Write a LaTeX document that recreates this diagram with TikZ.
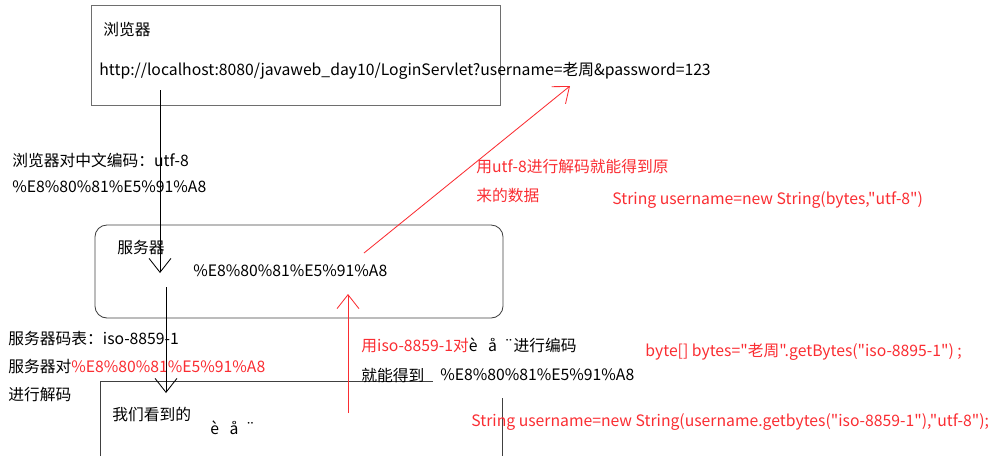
\documentclass[tikz,border=0pt]{standalone}
\usepackage{fontspec}
\setmainfont{Noto Sans CJK SC}[Ligatures=TeXOff]
\usetikzlibrary{arrows.meta,positioning,calc}
\definecolor{note}{RGB}{250,45,50}
\definecolor{frame}{RGB}{110,110,110}

\begin{document}
\begin{tikzpicture}[x=0.025cm, y=-0.025cm, font=\fontsize{11.2}{13}\selectfont, >={Straight Barb[length=3.5mm,width=5.5mm]}, line width=0.6pt]
\tikzstyle{txt}=[inner sep=0pt, anchor=west]
\tikzstyle{rtxt}=[txt, text=note]
\useasboundingbox (0,0) rectangle (1001,456);
% boxes
\node[draw=frame, minimum width=10.225cm, minimum height=2.5cm, inner sep=0pt] (browser) at (295.5,55) {};
\node[draw=black!75, rounded corners=0.3cm, minimum width=10.2cm, minimum height=2.325cm, inner sep=0pt] (server) at (299,271.5) {};
\draw[black!75] (100,456) -- (100,381) -- (433,381);
\draw[black!75] (502,398) -- (502,456);
% texts
\node[txt] (browserlbl) at (103,30) {浏览器};
\node[txt] (url) at (99,71) {http://localhost:8080/javaweb\_day10/LoginServlet?username=老周\&password=123};
\node[txt] (enc1) at (12,160) {浏览器对中文编码：utf-8};
\node[txt] (enc2) at (12,187) {\%E8\%80\%81\%E5\%91\%A8};
\node[txt] (serverlbl) at (117,248) {服务器};
\node[txt] (servercode) at (193,271) {\%E8\%80\%81\%E5\%91\%A8};
\node[rtxt] (utfnote1) at (476,167) {用utf-8进行解码就能得到原};
\node[rtxt] (utfnote2) at (476,195) {来的数据};
\node[rtxt] (code1) at (612,200) {String username=new String(bytes,"utf-8")};
\node[txt] (iso1) at (8,339) {服务器码表：iso-8859-1};
\node[txt] (iso2) at (8,367) {服务器对\textcolor{note}{\%E8\%80\%81\%E5\%91\%A8}};
\node[txt] (iso3) at (8,395) {进行解码};
\node[rtxt] (isonote) at (361,345) {用iso-8859-1对\textcolor{black}{è\ \ \ å\ \ ¨进行编码}};
\node[txt] (got) at (361,375) {就能得到};
\node[txt] (gotcode) at (440,375) {\%E8\%80\%81\%E5\%91\%A8};
\node[rtxt] (code2) at (645,352) {byte[] bytes="老周".getBytes("iso-8895-1") ;};
\node[rtxt] (code3) at (471,422) {String username=new String(username.getbytes("iso-8859-1"),"utf-8");};
\node[txt] (seen) at (112,414) {我们看到的};
\node[txt] (garbled) at (210,428) {è\ \ \ å\ \ ¨};
% connectors
\coordinate (bstart) at (160,90);
\coordinate (sin) at (160,273);
\coordinate (sout) at (166,287);
\coordinate (seenin) at (166,393);
\coordinate (isostart) at (348,413);
\coordinate (isoend) at (348,294);
\coordinate (utfstart) at (364,253);
\coordinate (utfend) at (570,86);
\draw[->] (bstart) -- (sin);
\draw[->] (sout) -- (seenin);
\draw[->, note] (isostart) -- (isoend);
\draw[->, note] (utfstart) -- (utfend);
\end{tikzpicture}
\end{document}
